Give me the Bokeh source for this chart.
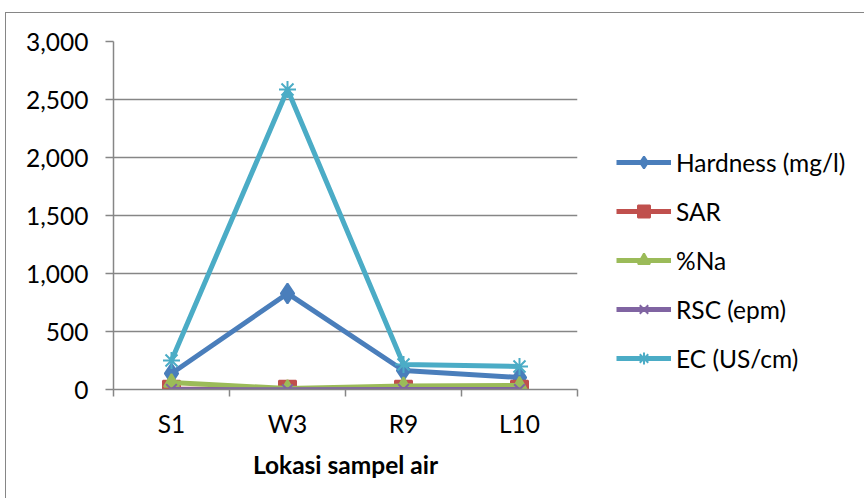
from bokeh.plotting import figure
from bokeh.models import Range1d, FixedTicker, NumeralTickFormatter, Legend, LegendItem
from bokeh.embed import file_html
from bokeh.resources import INLINE

categories = ["S1", "W3", "R9", "L10"]
hardness = [138, 828, 164, 103]
sar = [1.5, 2.1, 3.0, 2.8]
na_pct = [60, 8, 30, 35]
rsc = [0.5, -2.0, 0.3, 0.2]
ec = [250, 2586, 216, 198]
y_ticks = [0, 500, 1000, 1500, 2000, 2500, 3000]

series = [
    ("Hardness (mg/l)", hardness, "#4A7EBB", "diamond", 20),
    ("SAR", sar, "#C0504D", "square", 17),
    ("%Na", na_pct, "#9BBB59", "triangle", 15),
    ("RSC (epm)", rsc, "#8064A2", "x", 15),
    ("EC (US/cm)", ec, "#4BACC6", "asterisk", 17),
]

FONT = "Lato"
FS = "24.5px"
xs = [i + 0.5 for i in range(len(categories))]

p = figure(width=850, height=485, output_backend="svg", toolbar_location=None,
           x_range=Range1d(0, len(categories)), y_range=Range1d(0, 3000),
           min_border_left=107, min_border_right=279, min_border_top=28, min_border_bottom=109,
           styles={"margin-left": "5px", "margin-top": "12px",
                   "border-left": "1.5px solid #868686", "border-top": "1.5px solid #868686"})
p.frame_width = 464
p.frame_height = 348
p.outline_line_color = None
p.background_fill_color = "white"
p.border_fill_color = "white"

xa = p.xaxis[0]
xa.ticker = FixedTicker(ticks=xs, minor_ticks=list(range(len(categories) + 1)))
xa.major_label_overrides = {x: c for x, c in zip(xs, categories)}
xa.major_tick_line_color = None
xa.major_tick_out = 7
xa.major_tick_in = 0
xa.minor_tick_line_color = "#868686"
xa.minor_tick_out = 7
xa.minor_tick_in = 0
xa.minor_tick_line_width = 1.5
xa.axis_line_color = "#868686"
xa.axis_line_width = 1.5
xa.major_label_text_font = FONT
xa.major_label_text_font_size = FS
xa.major_label_text_color = "black"
xa.major_label_standoff = 12
xa.axis_label = "Lokasi sampel air"
xa.axis_label_text_font = FONT
xa.axis_label_text_font_size = FS
xa.axis_label_text_font_style = "bold"
xa.axis_label_text_color = "black"
xa.axis_label_standoff = 9

ya = p.yaxis[0]
ya.ticker = FixedTicker(ticks=y_ticks, minor_ticks=[])
ya.formatter = NumeralTickFormatter(format="0,0")
ya.major_tick_line_color = "#868686"
ya.major_tick_line_width = 1.5
ya.major_tick_out = 8
ya.major_tick_in = 0
ya.axis_line_color = "#868686"
ya.axis_line_width = 1.5
ya.major_label_text_font = FONT
ya.major_label_text_font_size = FS
ya.major_label_text_color = "black"
ya.major_label_standoff = 17

p.xgrid.grid_line_color = None
p.ygrid.ticker = FixedTicker(ticks=y_ticks)
p.ygrid.grid_line_color = "#868686"
p.ygrid.grid_line_width = 1.5

items = []
for name, vals, color, marker, size in series:
    ln = p.line(xs, vals, line_color=color, line_width=5, line_join="round")
    mk = p.scatter(xs, vals, marker=marker, size=size, fill_color=color,
                   line_color=color, line_width=2)
    items.append(LegendItem(label=name, renderers=[ln, mk]))

legend = Legend(items=items, location=(39, 16), orientation="vertical",
                label_text_font=FONT, label_text_font_size=FS, label_text_color="black",
                glyph_width=55, glyph_height=30, label_height=30, spacing=19,
                label_standoff=5, padding=0, margin=0,
                border_line_color=None, background_fill_alpha=0)
p.add_layout(legend, "right")

open("out.html", "w").write(file_html(p, INLINE))
